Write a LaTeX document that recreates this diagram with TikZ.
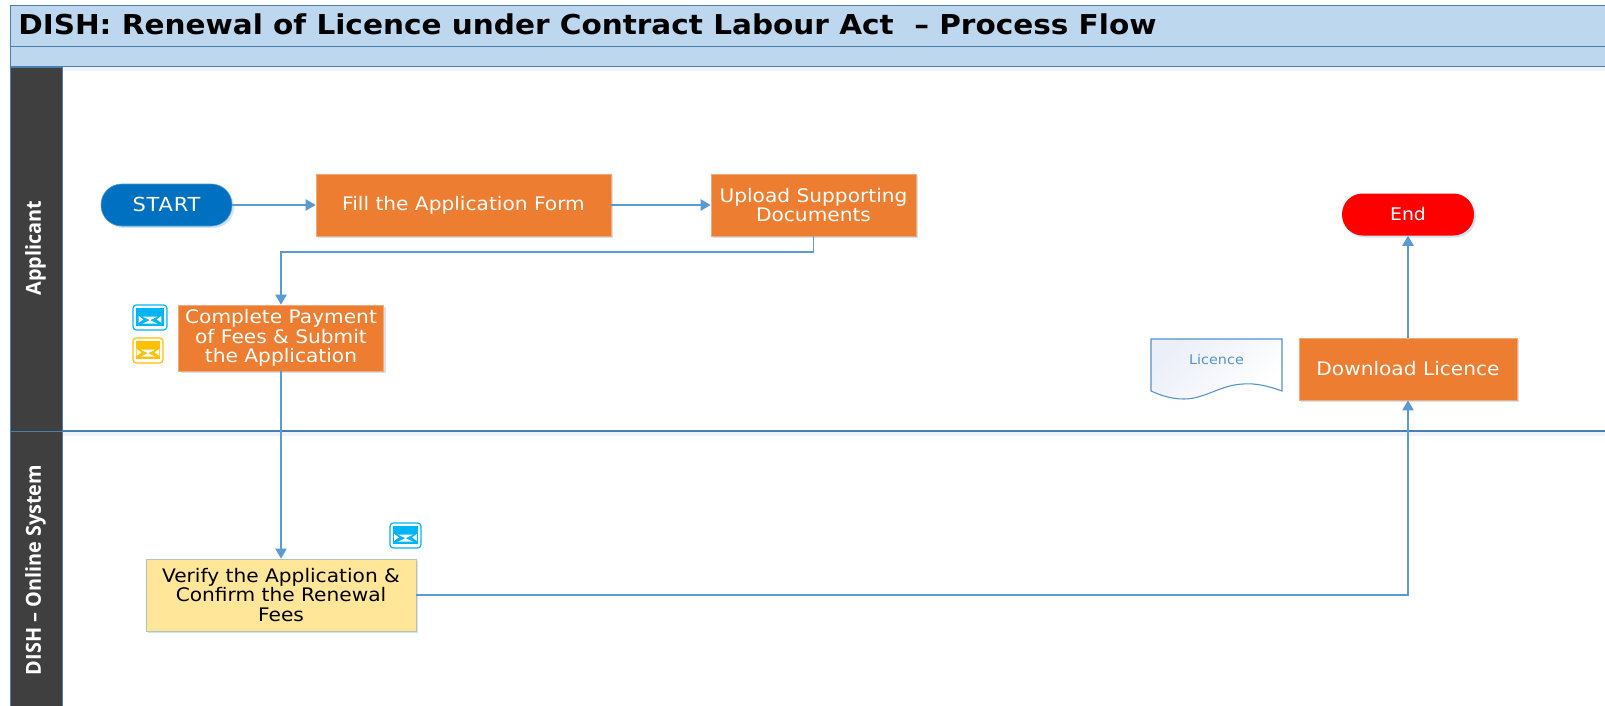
\documentclass[tikz,border=0pt]{standalone}
\usepackage{fontspec}
\setmainfont{DejaVu Sans}[FakeStretch=1.08]
\newfontfamily\lanefont{Open Sans}[FakeStretch=0.96]
\usetikzlibrary{arrows.meta,shadows,fadings,calc}
\definecolor{barblue}{HTML}{BDD7EE}
\definecolor{edgeblue}{HTML}{4A7EAE}
\definecolor{linkblue}{HTML}{5B9BD5}
\definecolor{laneblack}{HTML}{3F3F3F}
\definecolor{boxorange}{HTML}{ED7D31}
\definecolor{boxyellow}{HTML}{FFE699}
\definecolor{startblue}{HTML}{0070C0}
\definecolor{iconblue}{HTML}{00B5F5}
\definecolor{iconyellow}{HTML}{FFC000}
\definecolor{docblue}{HTML}{EBEFF9}
\tikzset{
  softshadow/.style={drop shadow={shadow xshift=1.5pt,shadow yshift=-1.5pt,opacity=.28,fill=linkblue}},
  bar/.style={draw=edgeblue,line width=1pt,fill=barblue,rectangle,inner sep=0pt,anchor=north west},
  lanehead/.style={draw=edgeblue,line width=1pt,fill=laneblack,rectangle,inner sep=0pt,anchor=north west,minimum width=39pt},
  lanelabel/.style={text=white,font=\lanefont\bfseries\fontsize{15.5}{18}\selectfont,rotate=90},
  process/.style={rectangle,inner sep=0pt,align=center,softshadow,font=\fontsize{14}{14.5}\selectfont},
  orangebox/.style={process,fill=boxorange,draw=boxorange!65!white,line width=.5pt,text=white},
  yellowbox/.style={process,fill=boxyellow,draw=linkblue!45!boxyellow,line width=.6pt,text=black},
  terminal/.style={rectangle,rounded corners=15.5pt,inner sep=0pt,softshadow,text=white,text depth=1.5pt},
  link/.style={draw=linkblue,line width=1pt,-{Triangle[length=7.5pt,width=8.5pt]}},
  laneline/.style={draw=edgeblue,line width=1.1pt},
  iconframe/.style={rectangle,rounded corners=2.5pt,fill=white,line width=.9pt,inner sep=0pt},
}
% envelope icon: #1 name, #2 centre x, #3 centre y, #4 width px, #5 height px, #6 colour
\newcommand{\mailicon}[6]{%
  \node[iconframe,draw=#6,minimum width=#4*.75pt,minimum height=#5*.75pt] (#1) at (#2,#3) {};
  \fill[#6] ($(#1.north west)+(2.4pt,-2.6pt)$) rectangle ($(#1.south east)+(-2.4pt,3.4pt)$);
  \fill[white] ($(#1.center)+(-5.5pt,.6pt)$) -- ($(#1.center)+(5.5pt,.6pt)$) -- ($(#1.center)+(0,-2pt)$) -- cycle;
  \fill[white] ($(#1.center)+(-5.5pt,-4.6pt)$) -- ($(#1.center)+(5.5pt,-4.6pt)$) -- ($(#1.center)+(0,-1.9pt)$) -- cycle;
  \fill[white] ($(#1.center)+(-8.5pt,1.2pt)$) -- ($(#1.center)+(-8.5pt,-4pt)$) -- ($(#1.center)+(-5pt,-1.4pt)$) -- cycle;
  \fill[white] ($(#1.center)+(8.5pt,1.2pt)$) -- ($(#1.center)+(8.5pt,-4pt)$) -- ($(#1.center)+(5pt,-1.4pt)$) -- cycle;
}
\begin{document}
\begin{tikzpicture}[x=.75pt,y=-.75pt]
\useasboundingbox (0,0) rectangle (1605,706);
\fill[white] (0,0) rectangle (1605,706);

% title bars
\begin{scope}
\clip (0,0) rectangle (1605,706);
\node[bar,minimum width=1610*.75pt,minimum height=41*.75pt] (titlebar) at (10,5) {};
\node[bar,minimum width=1610*.75pt,minimum height=20*.75pt] (subbar) at (10,46) {};
\node[anchor=west,inner sep=0pt,font=\bfseries\fontsize{20.5}{22}\selectfont] (title) at (18,24.5) {DISH: Renewal of Licence under Contract Labour Act\ \ – Process Flow};
% lane rule and headers
\coordinate (laneR) at (1606,431);
\coordinate (laneL) at (10,431);
\fill[linkblue,opacity=.10] (62,432) rectangle (1606,436);
\fill[linkblue,opacity=.10] (62,67) rectangle (1606,71);
\draw[laneline] (laneL) -- (laneR);
\node[lanehead,minimum height=364*.75pt] (lane1) at (10,67) {};
\node[lanehead,minimum height=290*.75pt] (lane2) at (10,431) {};
\end{scope}
\node[lanelabel] (lane1text) at (35.5,248) {Applicant};
\node[lanelabel] (lane2text) at (35.5,570) {DISH – Online System};

% process nodes
\node[terminal,fill=startblue,draw=startblue!70!white,line width=.4pt,minimum width=131*.75pt,minimum height=42*.75pt,font=\fontsize{14.5}{16}\selectfont\addfontfeature{LetterSpace=4.5}] (start) at (166.5,205) {START};
\node[orangebox,minimum width=295*.75pt,minimum height=62*.75pt] (fill) at (463.5,205) {Fill the Application Form};
\node[orangebox,minimum width=205*.75pt,minimum height=62*.75pt] (upload) at (813.5,205) {Upload Supporting\\Documents};
\node[terminal,fill=red,minimum width=132*.75pt,minimum height=42*.75pt,font=\fontsize{13.1}{15}\selectfont] (end) at (1408,214.5) {End};
\node[orangebox,minimum width=205*.75pt,minimum height=66*.75pt] (pay) at (281,338) {Complete Payment\\of Fees \& Submit\\the Application};
\node[orangebox,minimum width=218*.75pt,minimum height=62*.75pt] (download) at (1408,369) {Download Licence};
\node[yellowbox,minimum width=270*.75pt,minimum height=72*.75pt] (verify) at (281,595) {Verify the Application \&\\Confirm the Renewal\\Fees};

% document
\draw[draw=linkblue!70!edgeblue,line width=.8pt,top color=docblue,bottom color=white,shading angle=45]
  (1151,339) -- (1282,339) -- (1282,391)
  .. controls (1268,386) and (1256,383) .. (1243,384)
  .. controls (1220,385) and (1205,399) .. (1184,399)
  .. controls (1170,399) and (1160,395) .. (1151,391) -- cycle;
\node[inner sep=0pt,text=linkblue!75!edgeblue,font=\fontsize{10}{12}\selectfont] (doc) at (1216.5,360) {Licence};

% icons
\mailicon{icon1}{150}{317.5}{34}{25}{iconblue}
\mailicon{icon2}{148}{350.5}{30}{25}{iconyellow}
\mailicon{icon3}{405.5}{535.5}{31}{25}{iconblue}

% connectors
\coordinate (turn) at (281,252);
\draw[link] (start) -- (fill);
\draw[link] (fill) -- (upload);
\draw[link] (upload.south) |- (turn) -- (pay.north);
\draw[link] (pay) -- (verify);
\draw[link] (verify.east) -| (download.south);
\draw[link] (download) -- (end);
\end{tikzpicture}
\end{document}
